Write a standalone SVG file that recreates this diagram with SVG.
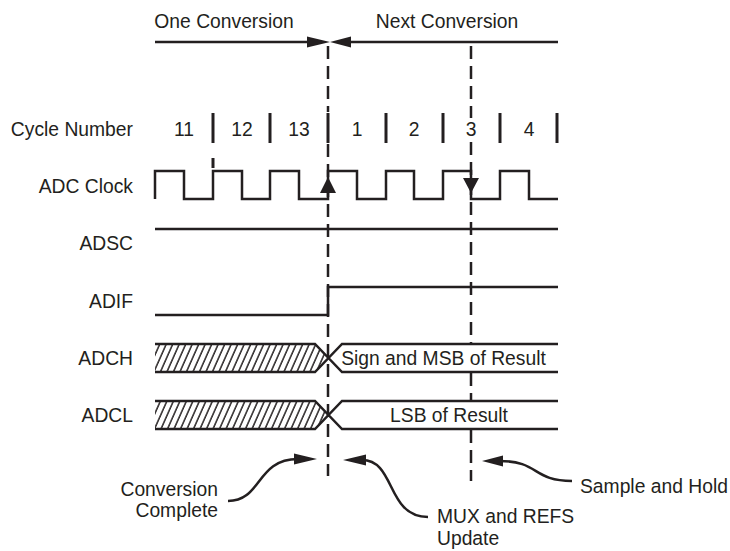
<svg xmlns="http://www.w3.org/2000/svg" width="730" height="551" viewBox="0 0 730 551">
  <style>
    text { font-family: "Liberation Sans", Arial, sans-serif; font-size: 19.3px; fill: #231f20; }
    .lbl { text-anchor: end; }
    .mid { text-anchor: middle; }
    .w { fill: none; stroke: #231f20; stroke-width: 2.5; stroke-linejoin: miter; }
    .sep { stroke: #231f20; stroke-width: 3; }
    .dash { stroke: #231f20; stroke-width: 2.5; stroke-dasharray: 13 7; fill: none; }
    .ah { fill: #231f20; }
    .cv { fill: none; stroke: #231f20; stroke-width: 2.5; }
  </style>
  <defs>
    <pattern id="hp" patternUnits="userSpaceOnUse" width="6.5" height="28" patternTransform="skewX(-24)">
      <line x1="1" y1="0" x2="1" y2="28" stroke="#231f20" stroke-width="1.6"/>
    </pattern>
  </defs>

  <!-- Header -->
  <g id="header">
    <text x="224" y="28" class="mid">One Conversion</text>
    <text x="447" y="28" class="mid">Next Conversion</text>
    <line x1="155" y1="42" x2="310" y2="42" class="w"/>
    <line x1="348" y1="42" x2="558" y2="42" class="w"/>
    <polygon class="ah" points="330,42 307,36.5 307,47.5"/>
    <polygon class="ah" points="330,42 351,36.5 351,47.5"/>
  </g>

  <!-- Connectors: dashed markers and callouts -->
  <g id="connectors">
    <line x1="328" y1="46" x2="328" y2="112" class="dash"/>
    <line x1="328" y1="144" x2="328" y2="476" class="dash"/>
    <line x1="471" y1="46" x2="471" y2="118" class="dash"/>
    <line x1="471" y1="142" x2="471" y2="343" class="dash"/>
    <line x1="471" y1="373" x2="471" y2="400" class="dash" stroke-dasharray="12 8"/>
    <line x1="471" y1="430" x2="471" y2="481" class="dash" stroke-dasharray="11 7"/>

    <path class="cv" d="M228,501 C262,501 256,459 298,459"/>
    <polygon class="ah" points="317,459 294,453.5 294,464.5"/>

    <path class="cv" d="M362,460 C396,460 386,517 428,517"/>
    <polygon class="ah" points="343,460 366,454.5 366,465.5"/>

    <path class="cv" d="M499,461 C540,461 532,481 572,481"/>
    <polygon class="ah" points="482,461 503,455.5 503,466.5"/>
  </g>

  <!-- Cycle numbers -->
  <g id="cycles">
    <text x="133" y="136" class="lbl">Cycle Number</text>
    <text x="184" y="136" class="mid">11</text>
    <text x="242" y="136" class="mid">12</text>
    <text x="299" y="136" class="mid">13</text>
    <text x="357" y="136" class="mid">1</text>
    <text x="414" y="136" class="mid">2</text>
    <text x="471" y="136" class="mid">3</text>
    <text x="529" y="136" class="mid">4</text>
    <line x1="213" y1="113" x2="213" y2="143" class="sep"/>
    <line x1="270" y1="113" x2="270" y2="143" class="sep"/>
    <line x1="328" y1="113" x2="328" y2="143" class="sep"/>
    <line x1="386" y1="113" x2="386" y2="143" class="sep"/>
    <line x1="443" y1="113" x2="443" y2="143" class="sep"/>
    <line x1="500" y1="113" x2="500" y2="143" class="sep"/>
    <line x1="557" y1="113" x2="557" y2="143" class="sep"/>
    <line x1="213" y1="158" x2="213" y2="168" class="sep" stroke-width="2.5"/>
  </g>

  <!-- ADC Clock -->
  <g id="adc-clock">
    <text x="133" y="193" class="lbl">ADC Clock</text>
    <path class="w" d="M155,199 V171 H184 V199 H213 V171 H242 V199 H270 V171 H299 V199 H328 V171 H357 V199 H386 V171 H414 V199 H443 V171 H471 V199 H500 V171 H529 V199 H558"/>
    <polygon class="ah" points="328,177 320,193 336,193"/>
    <polygon class="ah" points="471,193 463,178 479,178"/>
  </g>

  <!-- ADSC -->
  <g id="adsc">
    <text x="133" y="250" class="lbl">ADSC</text>
    <line x1="155" y1="229" x2="558" y2="229" class="w"/>
  </g>

  <!-- ADIF -->
  <g id="adif">
    <text x="133" y="308" class="lbl">ADIF</text>
    <path class="w" d="M155,315 H328 V287 H558"/>
  </g>

  <!-- ADCH -->
  <g id="adch">
    <text x="133" y="365" class="lbl">ADCH</text>
    <polygon points="155,344 315,344 328,358 315,372 155,372" fill="url(#hp)"/>
    <path class="w" d="M155,344 H315 L342,372 H558 M155,372 H315 L342,344 H558"/>
    <text x="443.5" y="365" class="mid">Sign and MSB of Result</text>
  </g>

  <!-- ADCL -->
  <g id="adcl">
    <text x="133" y="422" class="lbl">ADCL</text>
    <polygon points="155,401 315,401 328,415 315,429 155,429" fill="url(#hp)"/>
    <path class="w" d="M155,401 H315 L342,429 H558 M155,429 H315 L342,401 H558"/>
    <text x="449" y="422" class="mid">LSB of Result</text>
  </g>

  <!-- Callout labels -->
  <g id="callouts">
    <text x="218" y="496" class="lbl">Conversion</text>
    <text x="218" y="517" class="lbl">Complete</text>
    <text x="437" y="523">MUX and REFS</text>
    <text x="437" y="545">Update</text>
    <text x="580" y="493">Sample and Hold</text>
  </g>
</svg>
